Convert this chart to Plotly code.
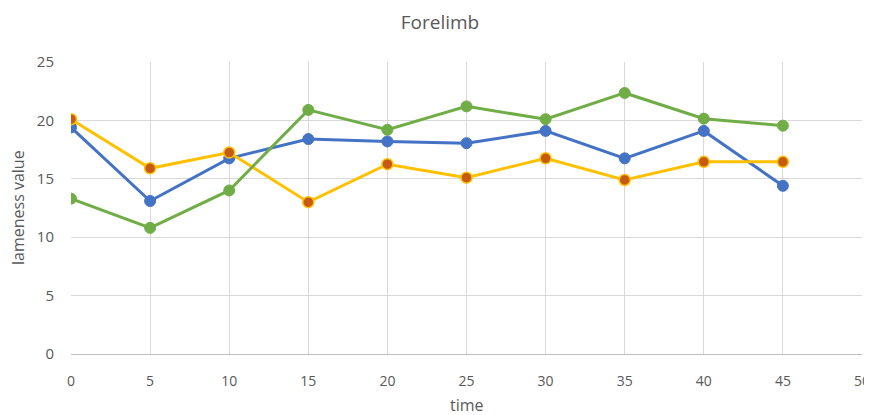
import plotly.graph_objects as go

time = [0, 5, 10, 15, 20, 25, 30, 35, 40, 45]
blue_vals = [19.4, 13.1, 16.75, 18.4, 18.2, 18.05, 19.1, 16.75, 19.1, 14.4]
green_vals = [13.3, 10.8, 14.0, 20.9, 19.2, 21.2, 20.1, 22.35, 20.15, 19.55]
yellow_vals = [20.1, 15.9, 17.25, 13.0, 16.25, 15.1, 16.75, 14.9, 16.45, 16.45]

fig = go.Figure()
fig.add_trace(go.Scatter(x=time, y=blue_vals, mode="lines+markers", name="Series 1",
                         line=dict(color="#4472C4", width=3),
                         marker=dict(color="#4472C4", size=11, line=dict(color="#4472C4", width=1))))
fig.add_trace(go.Scatter(x=time, y=yellow_vals, mode="lines+markers", name="Series 3",
                         line=dict(color="#FFC000", width=3),
                         marker=dict(color="#C55A11", size=11, line=dict(color="#FFC000", width=1.5))))
fig.add_trace(go.Scatter(x=time, y=green_vals, mode="lines+markers", name="Series 2",
                         line=dict(color="#70AD47", width=3),
                         marker=dict(color="#70AD47", size=11, line=dict(color="#70AD47", width=1))))

font_family = "Open Sans, Liberation Sans, Arial, sans-serif"
plot_w = 864 - 63 - 10
plot_h = 407 - 54 - 61
# The page body has an 8px default margin, so the figure is drawn 8px right/down.
fig.update_layout(
    width=864, height=407,
    margin=dict(l=63, r=10, t=54, b=61, autoexpand=False),
    paper_bgcolor="white", plot_bgcolor="white",
    showlegend=False,
    font=dict(family=font_family, color="#595959", size=13),
    title=dict(text="Forelimb", x=0.5, xanchor="center", y=1 - 14 / 407, yanchor="middle",
               font=dict(size=19, color="#595959", family=font_family)),
    xaxis=dict(range=[0, 50], tickvals=[0, 5, 10, 15, 20, 25, 30, 35, 40, 45, 50],
               automargin=False, ticklabeloverflow="allow",
               showgrid=True, gridcolor="#D9D9D9", gridwidth=1,
               zeroline=False, showline=True, linecolor="#BFBFBF", linewidth=1,
               ticks="", ticklabelstandoff=14, tickfont=dict(size=14, color="#595959")),
    yaxis=dict(range=[0, 25], tickvals=[0, 5, 10, 15, 20, 25],
               automargin=False,
               showgrid=True, gridcolor="#D9D9D9", gridwidth=1,
               zeroline=False, showline=False,
               ticks="", ticklabelstandoff=16, tickfont=dict(size=15, color="#595959")),
    annotations=[
        dict(text="time", xref="paper", yref="paper", x=0.5, y=-51 / plot_h,
             xanchor="center", yanchor="middle", showarrow=False,
             font=dict(size=16, color="#595959", family=font_family)),
        dict(text="lameness value", xref="paper", yref="paper", x=-53 / plot_w, y=0.5,
             xanchor="center", yanchor="middle", textangle=-90, showarrow=False,
             font=dict(size=16, color="#595959", family=font_family)),
    ],
)

fig.write_html("out.html")
